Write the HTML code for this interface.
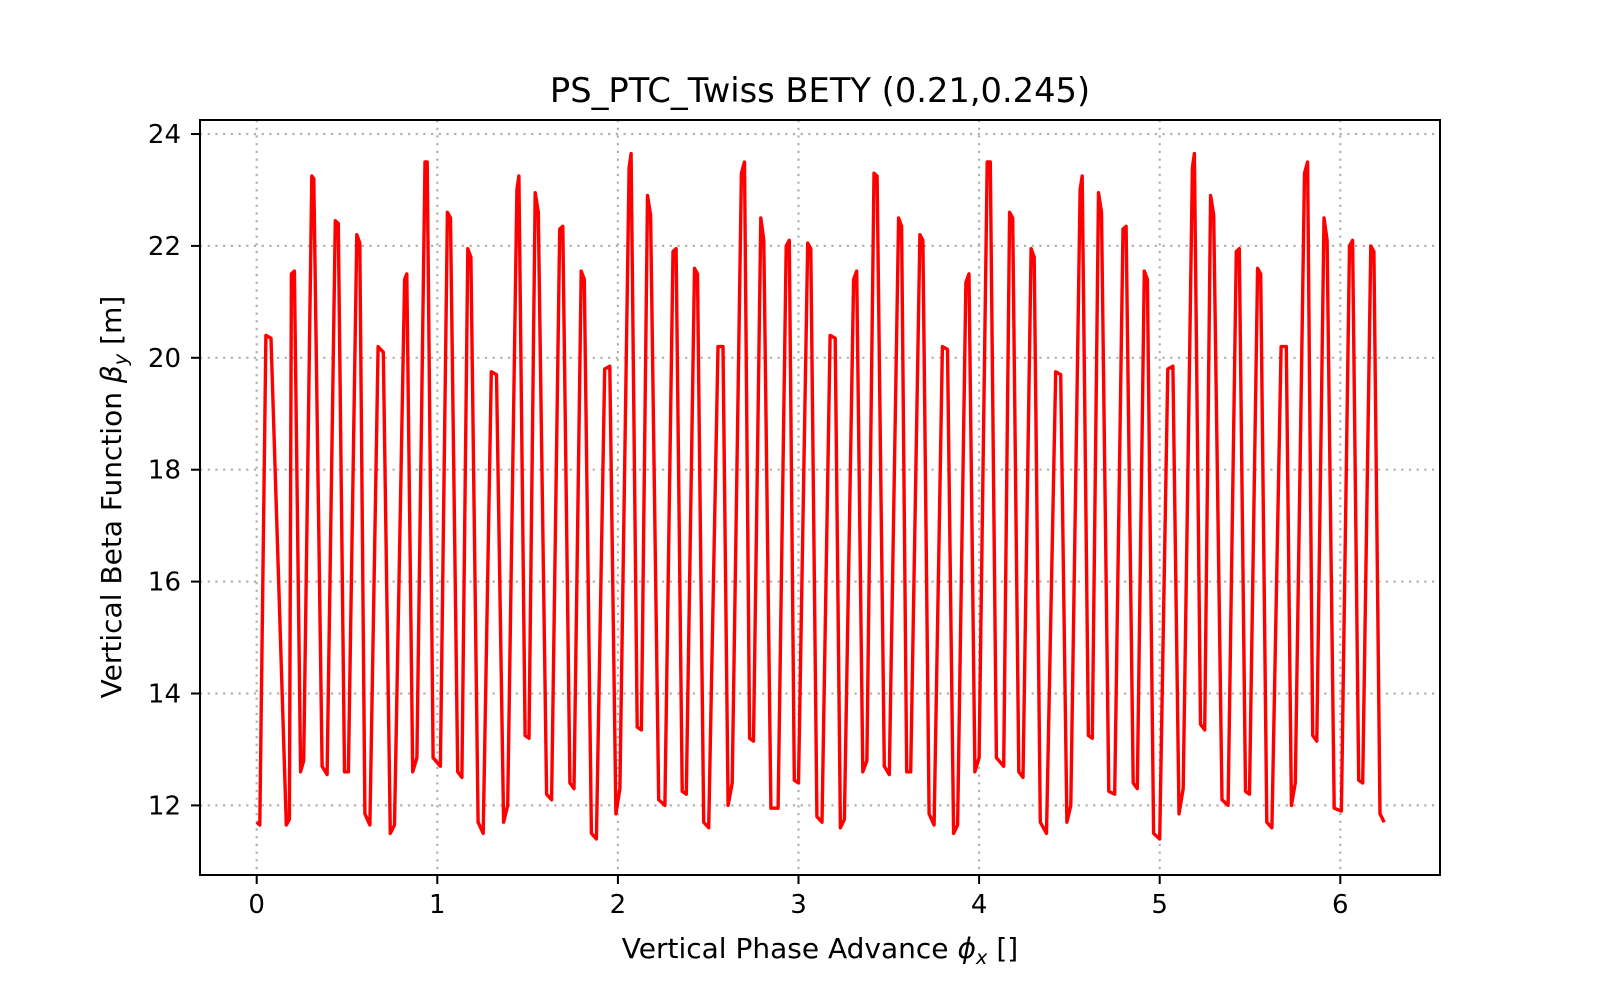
<!DOCTYPE html>
<html><head><meta charset="utf-8"><style>
html,body{margin:0;padding:0;background:#fff;}
svg text{font-family:"DejaVu Sans","Liberation Sans",sans-serif;fill:#000;}
</style></head><body>
<svg id="chart" width="1600" height="1000" viewBox="0 0 1600 1000" xmlns="http://www.w3.org/2000/svg">
<rect width="1600" height="1000" fill="#fff"/>
<g id="grid"></g>
<g id="series"></g>
<rect x="200" y="120" width="1240" height="755" fill="none" stroke="#000" stroke-width="2"/>
<g id="ticks"></g>
<text x="820" y="102" font-size="33.7" text-anchor="middle">PS_PTC_Twiss BETY (0.21,0.245)</text>
<text x="820" y="958" font-size="28" text-anchor="middle">Vertical Phase Advance <tspan font-style="italic">ϕ</tspan><tspan font-style="italic" font-size="19.5" dy="6">x</tspan><tspan dy="-6"> []</tspan></text>
<text transform="translate(121,497) rotate(-90)" font-size="28" text-anchor="middle">Vertical Beta Function <tspan font-style="italic">β</tspan><tspan font-style="italic" font-size="19.5" dy="6">y</tspan><tspan dy="-6"> [m]</tspan></text>
</svg>
<script>
const xTicks = [0,1,2,3,4,5,6];
const yTicks = [12,14,16,18,20,22,24];
const phase = [0.000,0.017,0.051,0.079,0.164,0.181,0.192,0.209,0.243,0.260,0.305,0.316,0.362,0.390,0.435,0.452,0.486,0.508,0.554,0.571,0.599,0.627,0.672,0.701,0.740,0.763,0.819,0.831,0.864,0.887,0.932,0.944,0.977,1.017,1.056,1.073,1.113,1.136,1.169,1.186,1.226,1.254,1.299,1.328,1.367,1.390,1.441,1.452,1.486,1.508,1.542,1.559,1.605,1.633,1.678,1.695,1.734,1.757,1.797,1.814,1.853,1.881,1.927,1.955,1.989,2.011,2.062,2.073,2.107,2.130,2.164,2.181,2.226,2.260,2.305,2.322,2.356,2.379,2.424,2.441,2.475,2.503,2.554,2.582,2.610,2.633,2.684,2.701,2.729,2.751,2.791,2.808,2.847,2.887,2.932,2.949,2.977,3.000,3.051,3.068,3.102,3.130,3.175,3.203,3.232,3.254,3.305,3.322,3.356,3.379,3.418,3.435,3.475,3.503,3.554,3.571,3.599,3.621,3.672,3.689,3.723,3.751,3.797,3.825,3.859,3.881,3.927,3.944,3.977,4.000,4.045,4.062,4.096,4.136,4.169,4.186,4.220,4.243,4.288,4.305,4.339,4.373,4.424,4.452,4.486,4.508,4.559,4.571,4.605,4.627,4.661,4.678,4.718,4.751,4.797,4.814,4.853,4.876,4.915,4.932,4.966,5.000,5.045,5.073,5.107,5.130,5.181,5.192,5.226,5.249,5.282,5.299,5.345,5.379,5.424,5.441,5.475,5.497,5.542,5.559,5.593,5.621,5.672,5.701,5.729,5.751,5.802,5.819,5.847,5.870,5.910,5.927,5.966,6.006,6.051,6.068,6.102,6.124,6.169,6.186,6.220,6.243];
const beta = [11.7,11.65,20.4,20.35,11.65,11.75,21.5,21.55,12.6,12.8,23.25,23.2,12.7,12.55,22.45,22.4,12.6,12.6,22.2,22.05,11.85,11.65,20.2,20.1,11.5,11.65,21.4,21.5,12.6,12.85,23.5,23.5,12.85,12.7,22.6,22.5,12.6,12.5,21.95,21.8,11.7,11.5,19.75,19.7,11.7,12.0,23.0,23.25,13.25,13.2,22.95,22.6,12.2,12.1,22.3,22.35,12.4,12.3,21.55,21.4,11.5,11.4,19.8,19.85,11.85,12.3,23.4,23.65,13.4,13.35,22.9,22.55,12.1,12.0,21.9,21.95,12.25,12.2,21.6,21.5,11.7,11.6,20.2,20.2,12.0,12.4,23.3,23.5,13.2,13.15,22.5,22.1,11.95,11.95,22.0,22.1,12.45,12.4,22.05,21.95,11.8,11.7,20.4,20.35,11.6,11.75,21.4,21.55,12.6,12.8,23.3,23.25,12.7,12.55,22.5,22.35,12.6,12.6,22.2,22.1,11.85,11.65,20.2,20.15,11.5,11.65,21.35,21.5,12.6,12.85,23.5,23.5,12.85,12.7,22.6,22.5,12.6,12.5,21.95,21.8,11.7,11.5,19.75,19.7,11.7,12.0,23.0,23.25,13.25,13.2,22.95,22.6,12.25,12.2,22.3,22.35,12.4,12.3,21.55,21.4,11.5,11.4,19.8,19.85,11.85,12.3,23.4,23.65,13.45,13.35,22.9,22.55,12.1,12.0,21.9,21.95,12.25,12.2,21.6,21.5,11.7,11.6,20.2,20.2,12.0,12.4,23.3,23.5,13.25,13.15,22.5,22.1,11.95,11.9,22.0,22.1,12.45,12.4,22.0,21.9,11.85,11.7];

const NS='http://www.w3.org/2000/svg';
const X0=256.7, XS=180.6, Y24=134, YS=55.95;
function xs(v){return X0+v*XS;}
function ys(v){return Y24+(24-v)*YS;}
function mk(tag,attrs,parent){const e=document.createElementNS(NS,tag);for(const k in attrs)e.setAttribute(k,attrs[k]);parent.appendChild(e);return e;}
const grid=document.getElementById('grid'), ticks=document.getElementById('ticks'), series=document.getElementById('series');
xTicks.forEach(t=>{
  const x=xs(t);
  const g=mk('line',{x1:x,x2:x,y1:120,y2:875,stroke:'#b0b0b0','stroke-width':2.2,'stroke-dasharray':'2.2,5.5'},grid);
  
  
  const tk=mk('line',{x1:x,x2:x,y1:875,y2:884,stroke:'#000','stroke-width':2},ticks);
  
  
  const lb=mk('text',{x:x,y:913,'font-size':26,'text-anchor':'middle'},ticks);
  lb.textContent=t;
  
  
});
yTicks.forEach(t=>{
  const y=ys(t);
  const g=mk('line',{x1:200,x2:1440,y1:y,y2:y,stroke:'#b0b0b0','stroke-width':2.2,'stroke-dasharray':'2.2,5.5'},grid);
  
  
  const tk=mk('line',{x1:191,x2:200,y1:y,y2:y,stroke:'#000','stroke-width':2},ticks);
  
  
  const lb=mk('text',{x:181,y:y+9,'font-size':26,'text-anchor':'end'},ticks);
  lb.textContent=t;
  
  
});
const pts=phase.map((p,i)=>xs(p).toFixed(1)+','+ys(beta[i]).toFixed(1)).join(' ');
const line=mk('polyline',{points:pts,fill:'none',stroke:'#ff0000','stroke-width':3.4,'stroke-linejoin':'round'},series);


</script>
</body></html>
